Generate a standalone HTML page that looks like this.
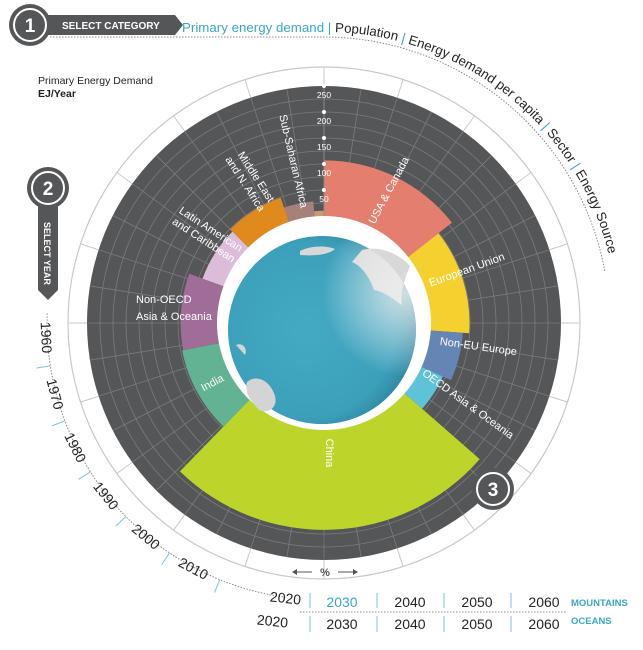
<!DOCTYPE html>
<html><head><meta charset="utf-8">
<style>
html,body{margin:0;padding:0;background:#fff;}
svg{display:block;font-family:"Liberation Sans","DejaVu Sans",sans-serif;}
</style></head>
<body>
<svg id="chart" width="643" height="650" viewBox="0 0 643 650" xmlns="http://www.w3.org/2000/svg">
<defs>
  <radialGradient id="globeGrad" cx="0.42" cy="0.5" r="0.62">
    <stop offset="0" stop-color="#44a9c3"/>
    <stop offset="0.75" stop-color="#3ca0bb"/>
    <stop offset="1" stop-color="#2a7f98"/>
  </radialGradient>
  <radialGradient id="shineGrad" cx="0.95" cy="0.3" r="0.45">
    <stop offset="0" stop-color="#eeeeee" stop-opacity="0.85"/>
    <stop offset="1" stop-color="#ffffff" stop-opacity="0"/>
  </radialGradient>
</defs>
<g id="outer"></g>
<g id="grid"></g>
<g id="bars"></g>
<g id="ticks"></g>
<g id="globe">
  <circle cx="324" cy="323" r="107" fill="#ffffff"/>
  <circle cx="322" cy="330" r="94" fill="url(#globeGrad)"/>
  <path d="M362,250 C382,245 400,255 410,266 C405,278 400,292 402,305 C394,300 386,292 374,290 C370,278 362,266 352,262 Z" fill="#d8d8d8"/>
  <path d="M300,251 C310,246 325,245 335,249 C328,255 315,256 300,255 Z" fill="#d8d8d8"/>
  <path d="M247,382 C256,374 270,380 275,396 C278,408 268,414 259,410 C251,401 244,393 247,382 Z" fill="#d4d4d4"/>
  <path d="M236,345 C242,342 248,348 245,355 Z" fill="#d4d4d4"/>
  <circle cx="322" cy="330" r="94" fill="url(#shineGrad)"/>
</g>
<g id="labels" fill="#ffffff" font-size="11">
  <text transform="translate(392,192) rotate(-62)" text-anchor="middle">USA &amp; Canada</text>
  <text transform="translate(468,273) rotate(-20)" text-anchor="middle">European Union</text>
  <text transform="translate(478,350) rotate(8)" text-anchor="middle">Non-EU Europe</text>
  <text transform="translate(466,407) rotate(36)" text-anchor="middle">OECD Asia &amp; Oceania</text>
  <text transform="translate(326,453) rotate(90)" text-anchor="middle">China</text>
  <text transform="translate(214,386) rotate(-28)" text-anchor="middle">India</text>
  <text x="136" y="303">Non-OECD</text>
  <text x="136" y="320">Asia &amp; Oceania</text>
  <text transform="translate(205,238) rotate(33)" text-anchor="middle"><tspan x="0" dy="-7">Latin American</tspan><tspan x="0" dy="13">and Caribbean</tspan></text>
  <text transform="translate(248,182) rotate(57)" text-anchor="middle"><tspan x="0" dy="-6">Middle East</tspan><tspan x="0" dy="13">and N. Africa</tspan></text>
  <text transform="translate(290,162) rotate(77)" text-anchor="middle">Sub-Saharan Africa</text>
</g>
<g>
  <path d="M45,15 L175,15 L183,25 L175,35 L45,35 Z" fill="#555658"/>
  <circle cx="30" cy="25" r="21" fill="#555658"/>
  <circle cx="30" cy="25" r="16" fill="none" stroke="#fff" stroke-width="2"/>
  <text x="30" y="32" text-anchor="middle" fill="#fff" font-size="19" font-weight="bold">1</text>
  <text x="62" y="29" fill="#fff" font-size="10" font-weight="bold">SELECT CATEGORY</text>
  <path id="catDots" d="M50,37 L324,37 A286,286 0 0 1 605,272" fill="none" stroke="#888" stroke-width="1" stroke-dasharray="1.5,1.5"/>
  <path id="catPath" d="M182,32 L324,32 A291,291 0 0 1 615,290" fill="none"/>
  <text font-size="13.3" fill="#222"><textPath href="#catPath"><tspan fill="#3aa6c6">Primary energy demand</tspan><tspan fill="#3aa6c6"> | </tspan><tspan>Population</tspan><tspan fill="#3aa6c6"> | </tspan><tspan>Energy demand per capita</tspan><tspan fill="#3aa6c6"> | </tspan><tspan>Sector</tspan><tspan fill="#3aa6c6"> | </tspan><tspan>Energy Source</tspan></textPath></text>
</g>
<text x="38" y="84" font-size="10.5" fill="#222">Primary Energy Demand</text>
<text x="38" y="97" font-size="10.5" font-weight="bold" fill="#222">EJ/Year</text>
<g>
  <path d="M38,190 L58,190 L58,290 L48,300 L38,290 Z" fill="#555658"/>
  <circle cx="48" cy="188" r="21" fill="#555658"/>
  <circle cx="48" cy="188" r="16" fill="none" stroke="#fff" stroke-width="2"/>
  <text x="48" y="195" text-anchor="middle" fill="#fff" font-size="19" font-weight="bold">2</text>
  <text transform="translate(44,222) rotate(90)" fill="#fff" font-size="9" font-weight="bold">SELECT YEAR</text>
</g>
<g id="years"></g>
<g font-size="14" fill="#222">
  <line x1="300" y1="612" x2="566" y2="612" stroke="#888" stroke-dasharray="1.5,1.5"/>
  <text transform="translate(285,603) rotate(6)" text-anchor="middle">2020</text>
  <text transform="translate(272,626) rotate(6)" text-anchor="middle">2020</text>
  <g stroke="#7cc4da" stroke-width="1">
    <line x1="310" y1="593" x2="310" y2="608"/><line x1="377" y1="593" x2="377" y2="608"/><line x1="444" y1="593" x2="444" y2="608"/><line x1="511" y1="593" x2="511" y2="608"/>
    <line x1="310" y1="616" x2="310" y2="632"/><line x1="377" y1="616" x2="377" y2="632"/><line x1="444" y1="616" x2="444" y2="632"/><line x1="511" y1="616" x2="511" y2="632"/>
  </g>
  <text x="342" y="607" text-anchor="middle" fill="#3aa6c6">2030</text>
  <text x="410" y="607" text-anchor="middle">2040</text>
  <text x="477" y="607" text-anchor="middle">2050</text>
  <text x="544" y="607" text-anchor="middle">2060</text>
  <text x="342" y="629" text-anchor="middle">2030</text>
  <text x="410" y="629" text-anchor="middle">2040</text>
  <text x="477" y="629" text-anchor="middle">2050</text>
  <text x="544" y="629" text-anchor="middle">2060</text>
  <text x="571" y="606" font-size="9.5" font-weight="bold" fill="#3aa6c6">MOUNTAINS</text>
  <text x="571" y="624" font-size="9.5" font-weight="bold" fill="#3aa6c6">OCEANS</text>
</g>
<g fill="#555" stroke="#555">
  <line x1="294" y1="572" x2="312" y2="572"/><path d="M292,572 l5,-3 v6 z" stroke="none"/>
  <line x1="338" y1="572" x2="356" y2="572"/><path d="M358,572 l-5,-3 v6 z" stroke="none"/>
  <text x="325" y="576" text-anchor="middle" font-size="11" font-weight="bold" stroke="none">%</text>
</g>
<g>
  <circle cx="493" cy="489" r="21" fill="#555658"/>
  <circle cx="493" cy="489" r="16" fill="none" stroke="#fff" stroke-width="2"/>
  <text x="493" y="496" text-anchor="middle" fill="#fff" font-size="19" font-weight="bold">3</text>
</g>
<script>
const regions = ["USA & Canada","European Union","Non-EU Europe","OECD Asia & Oceania","China","India","Non-OECD Asia & Oceania","Latin American and Caribbean","Middle East and N. Africa","Sub-Saharan Africa","Other"];
const shares = [14.4,11.7,5.6,4.7,25.8,9.7,8.6,6.9,7.2,3.9,1.4];
const demand = [107,74,62,45,192,72,70,43,49,29,10];
const colors = ["#e47f6f","#f5d130","#6586b5","#5ec3d7","#bdd52a","#61b394","#a06d98","#dcbcd9","#e08a1e","#a6817a","#c99b70"];
const tickValues = [50,100,150,200,250];
const yearLabels = ["1960","1970","1980","1990","2000","2010"];

const NS = "http://www.w3.org/2000/svg";
const CX = 324, CY = 323, R0 = 107, RMAX = 237, VMAX = 250, ROUT = 256;
function rScale(v){ return R0 + (RMAX - R0) * v / VMAX; }
function pt(a, r){ const t = a * Math.PI / 180; return [CX + r * Math.sin(t), CY - r * Math.cos(t)]; }
function mk(tag, attrs, parent){ const e = document.createElementNS(NS, tag); for (const k in attrs) e.setAttribute(k, attrs[k]); parent.appendChild(e); return e; }
function sector(a0, a1, r0, r1){
  const p0 = pt(a0, r1), p1 = pt(a1, r1), p2 = pt(a1, r0), p3 = pt(a0, r0);
  const lg = (a1 - a0) > 180 ? 1 : 0;
  return `M${p0[0]},${p0[1]} A${r1},${r1} 0 ${lg} 1 ${p1[0]},${p1[1]} L${p2[0]},${p2[1]} A${r0},${r0} 0 ${lg} 0 ${p3[0]},${p3[1]} Z`;
}

const outer = document.getElementById('outer');
const oc = mk('circle', {cx:CX, cy:CY, r:ROUT, fill:'#fff', stroke:'#c8c8c8', 'stroke-width':1.2}, outer);


for (let a = 0; a < 360; a += 18){
  const p = pt(a, RMAX), q = pt(a, ROUT);
  mk('line', {x1:p[0], y1:p[1], x2:q[0], y2:q[1], stroke:'#c8c8c8', 'stroke-width':1}, outer);
}
const dk = mk('circle', {cx:CX, cy:CY, r:RMAX, fill:'#555658'}, outer);



const grid = document.getElementById('grid');
for (let v = 25; v <= 225; v += 25){
  mk('circle', {cx:CX, cy:CY, r:rScale(v), fill:'none', stroke:'#7a7b7d', 'stroke-width':0.8}, grid);
}
for (let a = 0; a < 360; a += 9){
  const p = pt(a, R0), q = pt(a, RMAX);
  mk('line', {x1:p[0], y1:p[1], x2:q[0], y2:q[1], stroke:'#7a7b7d', 'stroke-width':0.8}, grid);
}

const bars = document.getElementById('bars');
const total = shares.reduce((s, v) => s + v, 0);
let acc = 0;
for (let i = 0; i < regions.length; i++){
  const a0 = acc / total * 360; acc += shares[i]; const a1 = acc / total * 360;
  const p = mk('path', {d: sector(a0, a1, R0 - 2, rScale(demand[i])), fill: colors[i]}, bars);
  
  
}

const ticks = document.getElementById('ticks');
mk('line', {x1:CX, y1:CY - rScale(0), x2:CX, y2:CY - RMAX, stroke:'#8a8b8d', 'stroke-width':0.8}, ticks);
mk('line', {x1:CX, y1:CY - RMAX, x2:CX, y2:CY - ROUT, stroke:'#c8c8c8', 'stroke-width':1}, ticks);
for (const v of tickValues){
  const r = rScale(v);
  const d = mk('circle', {cx:CX, cy:CY - r, r:2, fill:'#fff'}, ticks);
  
  
  const t = mk('text', {x:CX, y:CY - r + 12, 'text-anchor':'middle', 'font-size':8.5, fill:'#fff'}, ticks);
  t.textContent = v;
  
  
}

const years = document.getElementById('years');
const RY = 281;
const s = pt(272, RY - 4), e = pt(188, RY - 4);
mk('path', {d:`M${s[0]},${s[1]} A${RY-4},${RY-4} 0 0 0 ${e[0]},${e[1]}`, fill:'none', stroke:'#888', 'stroke-dasharray':'1.5,1.5'}, years);
for (let i = 0; i < yearLabels.length; i++){
  const a = 267 - i * 11.8;
  const p = pt(a, RY + 2);
  const t = mk('text', {transform:`translate(${p[0]},${p[1]}) rotate(${a - 180})`, 'text-anchor':'middle', 'font-size':14, fill:'#222'}, years);
  t.textContent = yearLabels[i];
  
  
  const ta = a - 5.9;
  const p1 = pt(ta, RY - 4), p2 = pt(ta, RY + 10);
  mk('line', {x1:p1[0], y1:p1[1], x2:p2[0], y2:p2[1], stroke:'#7cc4da', 'stroke-width':1}, years);
}
</script>
</svg>
</body></html>
